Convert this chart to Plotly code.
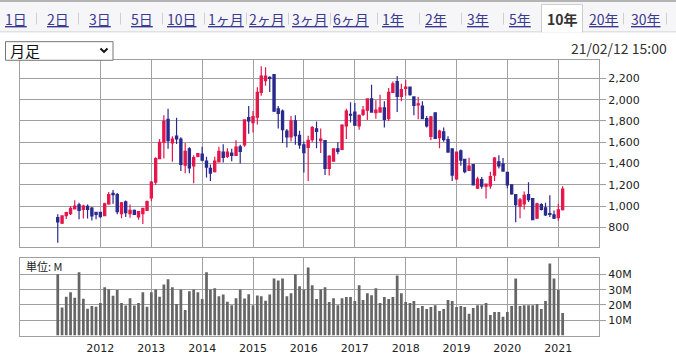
import pandas as pd
import plotly.graph_objects as go

# ---------------- data ----------------
months = pd.date_range("2011-03-01", periods=120, freq="MS")

open_ = [892, 840, 911, 929, 975, 1012, 969, 997, 982, 942, 942, 911,
         1022, 1120, 1108, 929, 1040, 929, 960, 899, 929, 960, 1077, 1225,
         1447, 1600, 1816, 1594, 1659, 1631, 1385, 1539, 1379, 1468, 1490, 1422,
         1354, 1323, 1416, 1508, 1468, 1499, 1477, 1557, 1576, 1831, 1785, 1835,
         2069, 2180, 2211, 2235, 1915, 1893, 1705, 1650, 1801, 1665, 1576, 1551,
         1625, 1727, 1616, 1616, 1354, 1422, 1539, 1533, 1754, 1862, 1884, 1754,
         1862, 1902, 2007, 1878, 1884, 1924, 1822, 2069, 2171, 2032, 2106, 2118,
         2026, 1952, 1940, 1822, 1655, 1877, 1643, 1698, 1625, 1539, 1255, 1520,
         1440, 1336, 1391, 1169, 1249, 1188, 1191, 1292, 1416, 1397, 1317, 1200,
         1108, 1000, 1022, 1108, 1071, 886, 1015, 985, 929, 917, 892, 966]
high = [923, 915, 948, 1000, 1055, 1031, 1012, 1015, 991, 945, 948, 1031,
        1133, 1151, 1123, 1040, 1052, 1015, 969, 954, 985, 1052, 1237, 1459,
        1631, 1853, 1915, 1656, 1831, 1647, 1594, 1554, 1477, 1499, 1557, 1465,
        1391, 1465, 1557, 1582, 1545, 1539, 1619, 1576, 1816, 1940, 1893, 2118,
        2315, 2306, 2220, 2241, 1940, 1908, 1724, 1847, 1853, 1708, 1607, 1662,
        1754, 1795, 1730, 1622, 1477, 1545, 1600, 1770, 1915, 1976, 1970, 1862,
        1940, 2013, 2140, 1995, 2047, 1986, 2109, 2171, 2223, 2149, 2186, 2124,
        2032, 2026, 1986, 1847, 1847, 1883, 1717, 1739, 1656, 1545, 1514, 1532,
        1446, 1455, 1397, 1277, 1274, 1212, 1323, 1462, 1477, 1452, 1323, 1206,
        1114, 1077, 1138, 1225, 1077, 1031, 1028, 1031, 1102, 960, 1022, 1188]
low = [655, 831, 880, 917, 970, 877, 883, 883, 865, 877, 892, 905,
       1012, 1022, 923, 886, 899, 892, 917, 871, 831, 954, 1046, 1200,
       1440, 1447, 1539, 1416, 1585, 1330, 1308, 1308, 1216, 1460, 1422, 1268,
       1237, 1317, 1410, 1410, 1453, 1422, 1471, 1400, 1557, 1680, 1693, 1767,
       2038, 2131, 2072, 1884, 1730, 1594, 1551, 1607, 1576, 1539, 1317, 1237,
       1600, 1545, 1500, 1293, 1287, 1416, 1487, 1524, 1631, 1785, 1754, 1717,
       1847, 1810, 1878, 1822, 1878, 1739, 1801, 2063, 1884, 1986, 2038, 2038,
       1853, 1816, 1816, 1739, 1620, 1631, 1545, 1606, 1502, 1237, 1246, 1379,
       1308, 1330, 1194, 1160, 1163, 1071, 1163, 1237, 1354, 1323, 1169, 1108,
       849, 886, 969, 1040, 868, 880, 960, 908, 898, 880, 862, 960]
close = [852, 908, 939, 979, 1000, 960, 1000, 969, 908, 923, 902, 1022,
         1108, 1108, 948, 1031, 939, 960, 923, 948, 979, 1043, 1225, 1447,
         1600, 1800, 1616, 1631, 1631, 1391, 1514, 1360, 1456, 1493, 1431, 1367,
         1311, 1422, 1514, 1459, 1508, 1477, 1554, 1514, 1810, 1800, 1841, 2069,
         2223, 2223, 2200, 1893, 1872, 1718, 1650, 1801, 1662, 1576, 1502, 1619,
         1739, 1702, 1631, 1354, 1471, 1539, 1514, 1761, 1893, 1856, 1761, 1853,
         1902, 2007, 1884, 1902, 1924, 1816, 2069, 2149, 2032, 2094, 2118, 2047,
         1946, 1961, 1822, 1754, 1840, 1637, 1705, 1625, 1508, 1292, 1508, 1431,
         1323, 1375, 1200, 1255, 1188, 1206, 1277, 1452, 1379, 1329, 1200, 1114,
         1015, 1058, 1102, 1062, 874, 1022, 969, 917, 923, 886, 966, 1160]
volume = [40.2, 18.3, 25.4, 28.4, 24.7, 41.5, 24.1, 17.6, 19.4, 18.9, 21.3, 31.6,
          30.3, 26.0, 29.9, 21.3, 19.6, 24.5, 19.6, 21.3, 28.4, 18.9, 28.4, 30.1,
          25.4, 33.5, 36.8, 31.6, 20.6, 30.1, 16.8, 29.0, 30.1, 28.4, 23.9, 41.5,
          30.1, 31.0, 25.8, 26.9, 22.1, 19.8, 24.5, 30.1, 24.3, 27.1, 19.8, 26.2,
          25.8, 22.8, 26.9, 37.4, 36.1, 37.4, 25.8, 27.7, 40.2, 32.3, 30.1, 44.5,
          32.9, 23.9, 30.1, 31.6, 21.9, 24.5, 19.8, 24.5, 25.2, 25.2, 22.6, 32.9,
          23.2, 27.7, 26.4, 31.0, 21.3, 25.2, 23.9, 25.2, 39.3, 27.7, 21.9, 21.3,
          22.6, 18.1, 19.4, 17.4, 18.7, 19.8, 16.1, 17.4, 23.2, 22.6, 18.7, 19.4,
          18.7, 14.2, 18.1, 19.8, 19.8, 21.3, 13.5, 15.5, 15.5, 12.3, 15.5, 19.4,
          37.4, 19.4, 19.8, 19.8, 19.8, 20.6, 17.4, 22.6, 47.1, 37.4, 29.9, 14.8]

year_ticks = ["2012-01-01", "2013-01-01", "2014-01-01", "2015-01-01", "2016-01-01",
              "2017-01-01", "2018-01-01", "2019-01-01", "2020-01-01", "2021-01-01"]
year_labels = ["2012", "2013", "2014", "2015", "2016", "2017", "2018", "2019",
               "2020", "2021"]
price_ticks = [800, 1000, 1200, 1400, 1600, 1800, 2000, 2200]
vol_ticks = [10, 20, 30, 40]
vol_tick_text = ["10M", "20M", "30M", "40M"]
tabs = ["1日", "2日", "3日", "5日", "10日", "1ヶ月", "2ヶ月", "3ヶ月", "6ヶ月",
        "1年", "2年", "3年", "5年", "10年", "20年", "30年"]
active_tab = "10年"
period_label = "月足"
timestamp = "21/02/12 15:00"
unit_label = "単位: M"

# ---------------- style ----------------
W, H = 676, 355
RED = "#e5164b"
BLUE = "#29298e"
VOLC = "#666666"
GRID = "#a0a0a0"
TICKFONT = dict(family="DejaVu Sans", size=11, color="#222222")
JP = "Noto Sans CJK JP"


def px(x):
    return x / W


def py(y):
    return 1 - y / H


tab_x = [16, 57.5, 100, 142, 181.5, 225.5, 267, 309.5, 351, 393.5, 436, 477.5,
         519.5, 562, 603.5, 645.5]
sep_x = [36, 78, 120, 162, 204, 246, 288, 330, 377, 419, 461, 503, 623, 666]

x_range = ["2010-06-03", "2021-10-20"]
xdom = [px(20), px(599)]

fig = go.Figure()
fig.add_trace(go.Candlestick(
    x=months, open=open_, high=high, low=low, close=close,
    increasing=dict(line=dict(color=RED, width=1.2), fillcolor=RED),
    decreasing=dict(line=dict(color=BLUE, width=1.2), fillcolor=BLUE),
    whiskerwidth=0, xaxis="x", yaxis="y", hoverinfo="x+y",
))
fig.add_trace(go.Bar(
    x=months, y=volume, marker=dict(color=VOLC, line=dict(width=0)),
    xaxis="x2", yaxis="y2",
))

common_x = dict(type="date", range=x_range, domain=xdom, tickmode="array",
                tickvals=year_ticks, ticktext=year_labels,
                showgrid=True, gridcolor=GRID, gridwidth=1,
                showline=True, mirror=True, linecolor=GRID, linewidth=1,
                zeroline=False, ticks="", fixedrange=True)

shapes = []
# tab bar
shapes.append(dict(type="rect", xref="paper", yref="paper", x0=0, x1=1,
                   y0=py(32.5), y1=py(1), fillcolor="#f6f6f8", line=dict(width=0),
                   layer="below"))
shapes.append(dict(type="line", xref="paper", yref="paper", x0=0, x1=1,
                   y0=py(1), y1=py(1), line=dict(color="#b4b4b4", width=2)))
shapes.append(dict(type="line", xref="paper", yref="paper", x0=0, x1=1,
                   y0=py(32.5), y1=py(32.5), line=dict(color="#d4d4d4", width=1)))
shapes.append(dict(type="rect", xref="paper", yref="paper", x0=px(541), x1=px(583),
                   y0=py(33), y1=py(4.5), fillcolor="white", line=dict(width=0)))
shapes.append(dict(type="path", xref="paper", yref="paper",
                   path=f"M {px(541.5)},{py(33)} L {px(541.5)},{py(4.5)} L {px(582.5)},{py(4.5)} L {px(582.5)},{py(33)}",
                   line=dict(color="#cccccc", width=1)))
for sx in sep_x:
    shapes.append(dict(type="line", xref="paper", yref="paper", x0=px(sx + 0.5),
                       x1=px(sx + 0.5), y0=py(13), y1=py(25),
                       line=dict(color="#cfcfcf", width=1)))
# dropdown
shapes.append(dict(type="rect", xref="paper", yref="paper", x0=px(5.5), x1=px(113),
                   y0=py(61.5), y1=py(42.5), fillcolor="white",
                   line=dict(color="#767676", width=1)))
shapes.append(dict(type="path", xref="paper", yref="paper",
                   path=f"M {px(100.5)},{py(49.5)} L {px(104)},{py(53)} L {px(107.5)},{py(49.5)}",
                   line=dict(color="#111111", width=2)))

annotations = []
for t, tx in zip(tabs, tab_x):
    if t == active_tab:
        txt = f"<b>{t}</b>"
        col = "#333333"
    else:
        txt = f"<u>{t}</u>"
        col = "#3a3a90"
    annotations.append(dict(text=txt, x=px(tx), y=py(19), xref="paper", yref="paper",
                            xanchor="center", yanchor="middle", showarrow=False,
                            font=dict(family=JP, size=14, color=col)))
annotations.append(dict(text=period_label, x=px(8), y=py(52), xref="paper", yref="paper",
                        xanchor="left", yanchor="middle", showarrow=False,
                        font=dict(family=JP, size=15, color="#111111")))
annotations.append(dict(text=timestamp, x=px(669), y=py(49), xref="paper", yref="paper",
                        xanchor="right", yanchor="middle", showarrow=False,
                        font=dict(family=JP, size=14, color="#333333")))
annotations.append(dict(text=unit_label, x=px(24), y=py(271), xref="paper", yref="paper",
                        xanchor="left", yanchor="middle", showarrow=False,
                        font=dict(family=JP, size=11, color="#222222")))

fig.update_layout(
    width=W, height=H, autosize=False,
    margin=dict(l=0, r=0, t=0, b=0, pad=0),
    paper_bgcolor="white", plot_bgcolor="white",
    showlegend=False, bargap=0.3, boxgap=0.2,
    xaxis=dict(**common_x, anchor="y", showticklabels=False,
               rangeslider=dict(visible=False)),
    yaxis=dict(domain=[py(252.3), py(61.7)], range=[613, 2368.6], side="right",
               anchor="x", tickvals=price_ticks, tickformat=",d",
               showgrid=True, gridcolor=GRID, showline=True, mirror=True,
               linecolor=GRID, linewidth=1, ticks="outside", ticklen=6,
               tickcolor=GRID, tickfont=TICKFONT, zeroline=False, fixedrange=True),
    xaxis2=dict(**common_x, anchor="y2", showticklabels=True, tickfont=TICKFONT,
                ticklabelstandoff=2),
    yaxis2=dict(domain=[py(342.3), py(263.3)], range=[0, 50.7], side="right",
                anchor="x2", tickvals=vol_ticks, ticktext=vol_tick_text,
                showgrid=True, gridcolor=GRID, showline=True, mirror=True,
                linecolor=GRID, linewidth=1, ticks="outside", ticklen=6,
                tickcolor=GRID, tickfont=TICKFONT, zeroline=False, fixedrange=True),
    shapes=shapes, annotations=annotations,
)

fig.write_html("out.html")
